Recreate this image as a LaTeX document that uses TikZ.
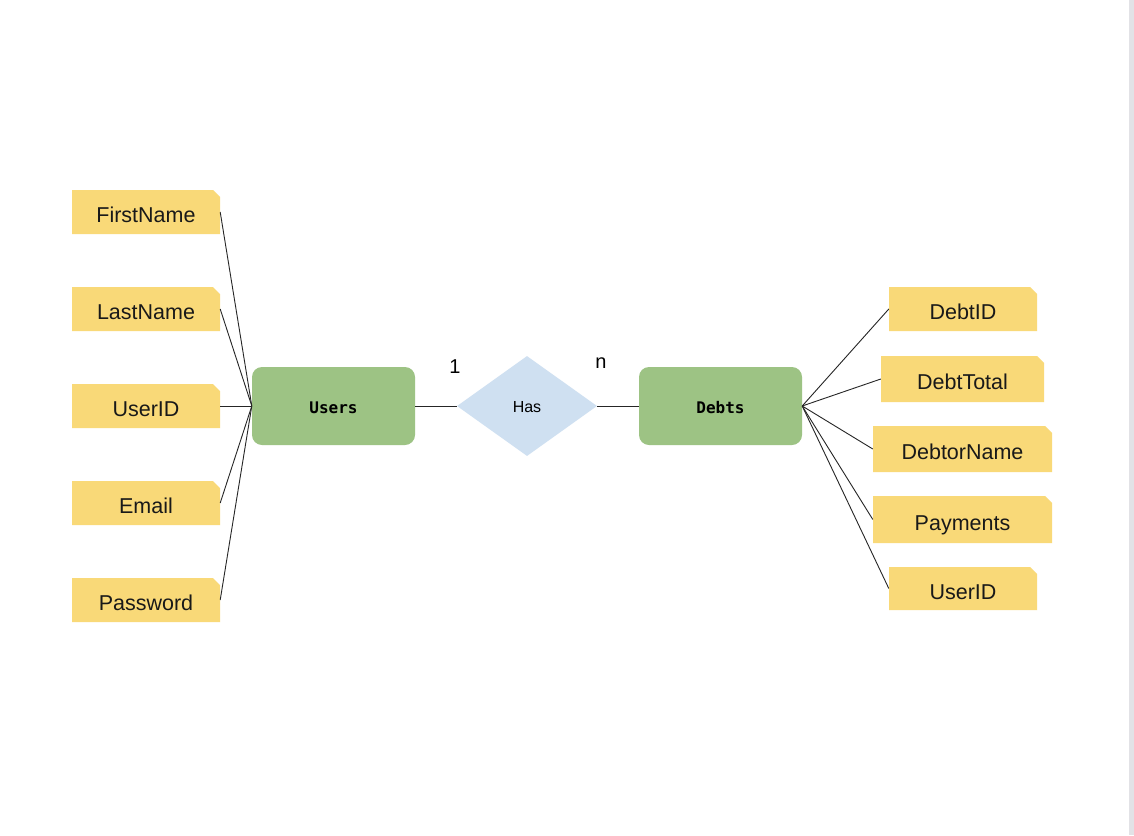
\documentclass[tikz,border=0pt]{standalone}
\usepackage{fontspec}
\setmainfont{Liberation Sans}
\setmonofont{DejaVu Sans Mono}
\usetikzlibrary{shapes.misc,shapes.geometric}
\definecolor{attrY}{HTML}{F9D978}
\definecolor{entG}{HTML}{9DC384}
\definecolor{relB}{HTML}{CFE0F1}
\definecolor{edgeG}{HTML}{E2E2E6}
\tikzset{
  attr/.style={chamfered rectangle, chamfered rectangle corners=north east,
    chamfered rectangle sep=3.5pt, fill=attrY, draw=none, inner sep=0pt,
    text height=21pt, text depth=0pt,
    font=\fontsize{21.5}{25}\selectfont, text=black!90},
  entity/.style={rounded corners=10pt, fill=entG, draw=none, minimum width=163pt,
    minimum height=78pt, inner sep=0pt, text height=14pt, text depth=0pt,
    font=\ttfamily\bfseries\fontsize{16}{19}\selectfont},
  rel/.style={diamond, fill=relB, draw=none, minimum width=140pt, minimum height=100pt,
    inner sep=0pt, aspect=1.4, text height=13.5pt, text depth=0pt,
    font=\fontsize{16}{19}\selectfont},
  conn/.style={draw=black!85, line width=0.9pt},
  card/.style={font=\fontsize{20}{24}\selectfont}
}
\begin{document}
\begin{tikzpicture}[x=1pt,y=-1pt]
\useasboundingbox (0,0) rectangle (1134,835);
\fill[white] (0,0) rectangle (1134,835);
\fill[edgeG] (1129,0) rectangle (1134,835);

\node[entity] (users) at (333.5,406) {Users};
\node[rel] (has) at (527,406) {Has};
\node[entity] (debts) at (720.5,406) {Debts};

\node[attr, minimum width=148pt, minimum height=44pt] (fn) at (146,212) {FirstName};
\node[attr, minimum width=148pt, minimum height=44pt] (ln) at (146,309) {LastName};
\node[attr, minimum width=148pt, minimum height=44pt] (uid) at (146,406) {UserID};
\node[attr, minimum width=148pt, minimum height=44pt] (em) at (146,503) {Email};
\node[attr, minimum width=148pt, minimum height=44pt] (pw) at (146,600) {Password};

\node[attr, minimum width=148pt, minimum height=44pt] (did) at (963,309) {DebtID};
\node[attr, minimum width=163pt, minimum height=46pt] (dt) at (962.5,379) {DebtTotal};
\node[attr, minimum width=179pt, minimum height=46pt] (dn) at (962.5,449) {DebtorName};
\node[attr, minimum width=179pt, minimum height=47pt] (pay) at (962.5,519.5) {Payments};
\node[attr, minimum width=148pt, minimum height=43pt] (duid) at (963,588.5) {UserID};

\foreach \a in {fn,ln,uid,em,pw} \draw[conn] (\a.east) -- (users.west);
\foreach \a in {did,dt,dn,pay,duid} \draw[conn] (debts.east) -- (\a.west);
\draw[conn] (users.east) -- (has.west);
\draw[conn] (has.east) -- (debts.west);

\node[card] (one) at (455,367) {1};
\node[card] (en) at (601,363) {n};
\end{tikzpicture}
\end{document}
